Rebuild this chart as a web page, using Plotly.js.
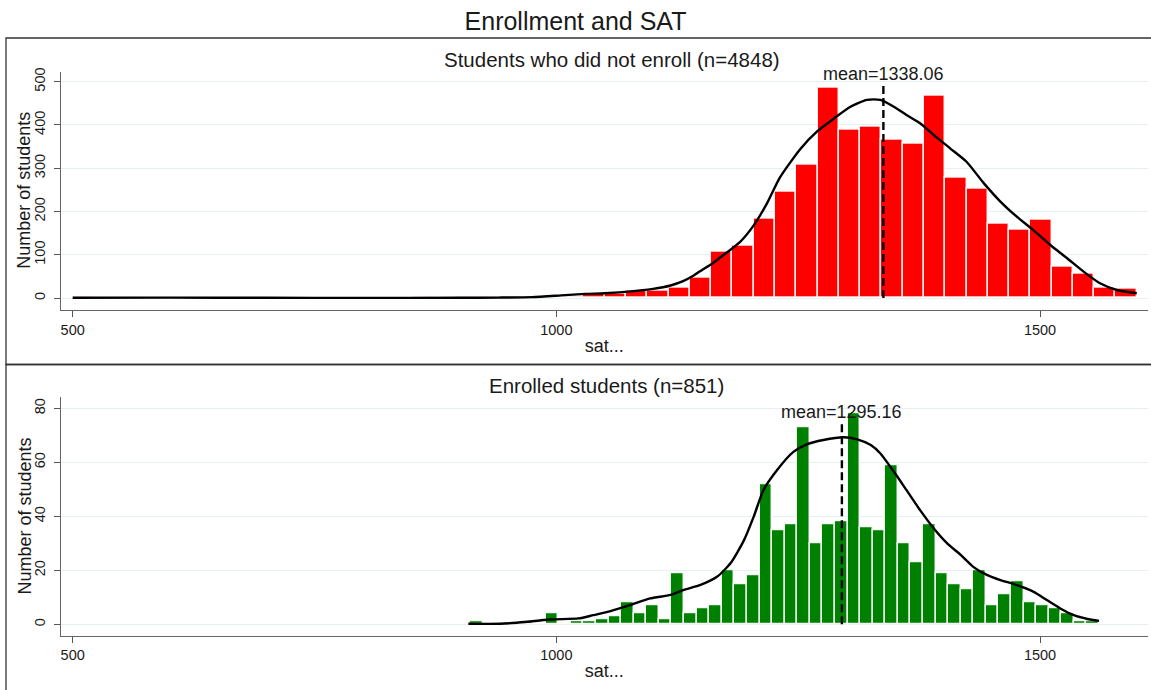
<!DOCTYPE html>
<html>
<head>
<meta charset="utf-8">
<script src="https://cdn.plot.ly/plotly-3.0.1.min.js"></script>
<style>
  html, body { margin: 0; padding: 0; background: #ffffff; }
  #chart { width: 1151px; height: 690px; }
</style>
</head>
<body>
<div id="chart"></div>
<script>
// SAT histograms by enrollment status, with kernel density overlay and mean line.

// Students who did not enroll: 50 bins of width 22 starting at 500
const notEnrolledBinStart = 500;
const notEnrolledBinWidth = 22;
const notEnrolledCounts = [
  2, 1, 1, 1, 1, 1, 1, 0, 1, 1, 1, 0, 1, 1, 1, 1, 2, 1, 2, 2, 3, 3, 4,
  3, 9, 9, 16, 18, 25, 47, 108, 120, 183, 245, 309, 485, 389, 396, 367,
  357, 468, 277, 252, 171, 159, 180, 72, 57, 23, 21
];
const notEnrolledKdeSat = [
  500, 600, 700, 800, 900, 940, 975, 1005, 1030, 1050, 1080, 1100, 1118, 1131,
  1142, 1148, 1162, 1169, 1190, 1204, 1218, 1231, 1252, 1269, 1287, 1304, 1321, 1335,
  1349, 1362, 1376, 1390, 1407, 1424, 1442, 1459, 1476, 1493, 1511, 1528, 1545,
  1562, 1580, 1600
];
const notEnrolledKdeCount = [
  0.5, 0.8, 0.5, 0.3, 0.5, 1, 2, 6, 9.5, 11, 16, 21, 29, 39,
  52, 61, 81, 93, 130, 168, 220, 278, 344, 384, 415, 442, 458, 458,
  442, 423, 404, 377, 346, 315, 265, 223, 188, 157, 122, 92, 61,
  34, 18, 11
];

// Enrolled students: 50 bins of width 13 starting at 911
const enrolledBinStart = 911;
const enrolledBinWidth = 13;
const enrolledCounts = [
  1, 0, 0, 0, 1, 0, 4, 0, 1, 1, 2, 3, 8, 4, 7, 2, 19, 4, 6, 7,
  20, 15, 18, 52, 35, 37, 73, 30, 37, 38, 78, 36, 35, 59, 30, 23, 37, 19, 15, 13,
  20, 7, 11, 16, 8, 7, 6, 4, 1, 1
];
const enrolledKdeSat = [
  909, 942, 959, 994, 1023, 1038, 1056, 1076, 1097, 1118, 1131, 1149, 1166, 1180,
  1194, 1204, 1214, 1228, 1245, 1259, 1276, 1297, 1311, 1325, 1335, 1349, 1362,
  1376, 1390, 1404, 1418, 1431, 1445, 1459, 1473, 1493, 1507, 1521, 1535, 1549, 1561
];
const enrolledKdeCount = [
  0.2, 0.2, 0.6, 1.8, 2.2, 3.4, 4.9, 7.1, 9.6, 10.9, 12.7, 14.6, 17.6, 22.6,
  31.2, 39.9, 49.7, 57.1, 63.9, 66.7, 68.3, 69.3, 68.5, 66.4, 63.3, 56.5, 49.7,
  42.3, 35.6, 30, 25.7, 21.3, 18.3, 16.4, 14.9, 12.1, 9, 5.9, 3.4, 2, 1.3
];

const panelTitles = ['Students who did not enroll (n=4848)', 'Enrolled students (n=851)'];
const groupMeans = [1338.06, 1295.16];
const meanLineTops = [496, 74.4];
const meanLabelY = [518, 78.7];
const xTickVals = [500, 1000, 1500];
const topYTicks = [0, 100, 200, 300, 400, 500];
const bottomYTicks = [0, 20, 40, 60, 80];
const yTitle = 'Number of students';
const xTitle = 'sat...';

const W = 1151, H = 690;
const px = v => v / W;
const py = v => 1 - v / H;
const FONT = 'Liberation Sans, Arial, Helvetica, sans-serif';
const INK = '#1a1a1a';

function binCenters(start, width, n) {
  const out = [];
  for (let i = 0; i < n; i++) out.push(start + width * (i + 0.5));
  return out;
}

const traces = [
  {
    type: 'bar',
    x: binCenters(notEnrolledBinStart, notEnrolledBinWidth, notEnrolledCounts.length),
    y: notEnrolledCounts,
    width: notEnrolledBinWidth,
    marker: { color: '#ff0000', line: { color: 'rgba(255,255,255,0.9)', width: 1.5 } },
    xaxis: 'x', yaxis: 'y', hoverinfo: 'x+y'
  },
  {
    type: 'scatter', mode: 'lines',
    x: notEnrolledKdeSat, y: notEnrolledKdeCount,
    line: { color: '#000000', width: 2.4, shape: 'spline', smoothing: 0.6 },
    xaxis: 'x', yaxis: 'y'
  },
  {
    type: 'bar',
    x: binCenters(enrolledBinStart, enrolledBinWidth, enrolledCounts.length),
    y: enrolledCounts,
    width: enrolledBinWidth,
    marker: { color: '#008000', line: { color: 'rgba(255,255,255,0.9)', width: 1.5 } },
    xaxis: 'x2', yaxis: 'y2', hoverinfo: 'x+y'
  },
  {
    type: 'scatter', mode: 'lines',
    x: enrolledKdeSat, y: enrolledKdeCount,
    line: { color: '#000000', width: 2.4, shape: 'spline', smoothing: 0.6 },
    xaxis: 'x2', yaxis: 'y2'
  }
];

const xDomain = [px(61), px(1147.7)];
const xCommon = {
  domain: xDomain,
  range: [487.9, 1611.3],
  tickmode: 'array', tickvals: xTickVals,
  ticks: 'outside', ticklen: 6, tickwidth: 1, tickcolor: '#555555',
  showline: true, linecolor: '#666666', linewidth: 1.2,
  showgrid: false, zeroline: false,
  tickfont: { family: FONT, size: 14.5, color: INK },
  fixedrange: true
};
const yCommon = {
  tickangle: -90,
  ticks: 'outside', ticklen: 6, tickwidth: 1, tickcolor: '#555555',
  showline: true, linecolor: '#666666', linewidth: 1.2,
  showgrid: true, gridcolor: '#e6eff1', gridwidth: 1,
  zeroline: false,
  tickfont: { family: FONT, size: 14.5, color: INK },
  ticklabelstandoff: 3,
  fixedrange: true
};

const layout = {
  width: W, height: H,
  margin: { l: 0, r: 0, t: 0, b: 0, pad: 0 },
  paper_bgcolor: '#ffffff', plot_bgcolor: '#ffffff',
  showlegend: false, bargap: 0,
  title: {
    text: 'Enrollment and SAT',
    font: { family: FONT, size: 25, color: INK },
    x: 0.5, xanchor: 'center', xref: 'paper',
    y: py(21), yanchor: 'middle', yref: 'paper'
  },
  xaxis: Object.assign({}, xCommon, {
    anchor: 'y',
    title: { text: xTitle, font: { family: FONT, size: 18, color: INK }, standoff: 2 }
  }),
  yaxis: Object.assign({}, yCommon, {
    anchor: 'x', domain: [py(310), py(71.7)], range: [-27.7, 523.1],
    tickmode: 'array', tickvals: topYTicks
  }),
  xaxis2: Object.assign({}, xCommon, {
    anchor: 'y2',
    title: { text: xTitle, font: { family: FONT, size: 18, color: INK }, standoff: 2 }
  }),
  yaxis2: Object.assign({}, yCommon, {
    anchor: 'x2', domain: [py(635.7), py(397.3)], range: [-4.2, 84.1],
    tickmode: 'array', tickvals: bottomYTicks
  }),
  shapes: [
    // panel frames
    { type: 'rect', xref: 'paper', yref: 'paper', x0: px(6), x1: px(1153), y0: py(364.5), y1: py(38),
      line: { color: '#333333', width: 1.3 }, layer: 'below' },
    { type: 'rect', xref: 'paper', yref: 'paper', x0: px(6), x1: px(1153), y0: py(692), y1: py(364.5),
      line: { color: '#333333', width: 1.3 }, layer: 'below' },
    // mean lines
    { type: 'line', xref: 'x', yref: 'y', x0: groupMeans[0], x1: groupMeans[0], y0: 0, y1: meanLineTops[0],
      line: { color: '#000000', width: 2.4, dash: '8px,4px' } },
    { type: 'line', xref: 'x2', yref: 'y2', x0: groupMeans[1], x1: groupMeans[1], y0: 0, y1: meanLineTops[1],
      line: { color: '#000000', width: 2.4, dash: '8px,4px' } }
  ],
  annotations: [
    { text: panelTitles[0], xref: 'paper', yref: 'paper', x: px(612), y: py(59),
      xanchor: 'center', yanchor: 'middle', showarrow: false,
      font: { family: FONT, size: 20.5, color: INK } },
    { text: panelTitles[1], xref: 'paper', yref: 'paper', x: px(606), y: py(385),
      xanchor: 'center', yanchor: 'middle', showarrow: false,
      font: { family: FONT, size: 20.5, color: INK } },
    { text: 'mean=' + groupMeans[0].toFixed(2), xref: 'x', yref: 'y', x: groupMeans[0], y: meanLabelY[0],
      xanchor: 'center', yanchor: 'middle', showarrow: false,
      font: { family: FONT, size: 18, color: INK } },
    { text: 'mean=' + groupMeans[1].toFixed(2), xref: 'x2', yref: 'y2', x: groupMeans[1], y: meanLabelY[1],
      xanchor: 'center', yanchor: 'middle', showarrow: false,
      font: { family: FONT, size: 18, color: INK } },
    // y-axis titles
    { text: yTitle, xref: 'paper', yref: 'paper', x: px(24), y: py(190.8), textangle: -90,
      xanchor: 'center', yanchor: 'middle', showarrow: false,
      font: { family: FONT, size: 18, color: INK } },
    { text: yTitle, xref: 'paper', yref: 'paper', x: px(24), y: py(516.5), textangle: -90,
      xanchor: 'center', yanchor: 'middle', showarrow: false,
      font: { family: FONT, size: 18, color: INK } }
  ]
};

Plotly.newPlot('chart', traces, layout, { displayModeBar: false });
</script>
</body>
</html>
